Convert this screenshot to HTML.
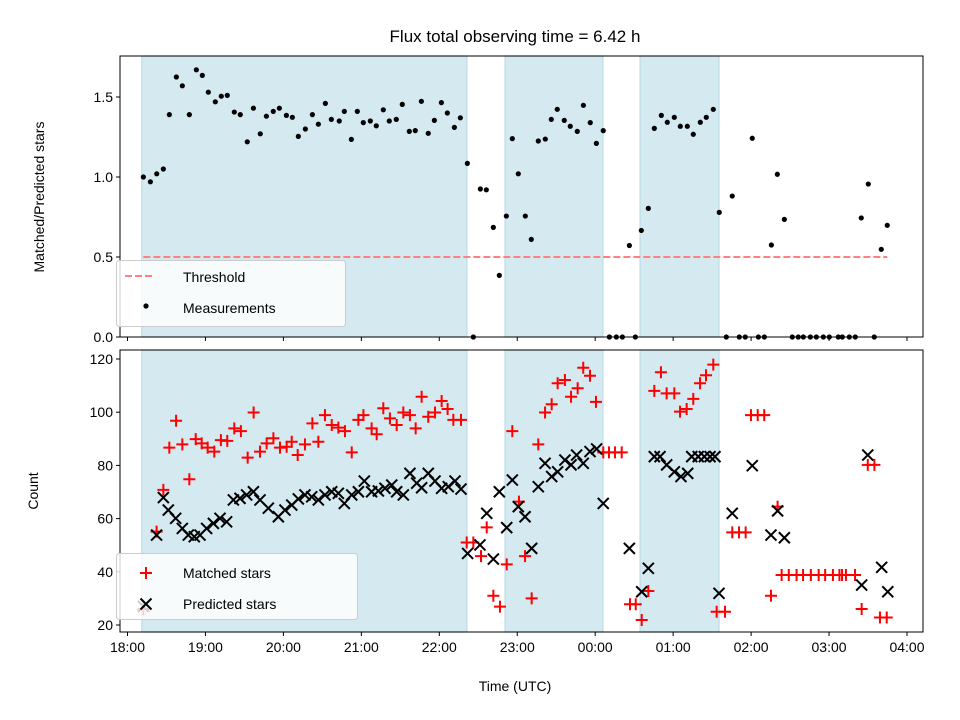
<!DOCTYPE html>
<html><head><meta charset="utf-8"><style>
body{margin:0;background:#fff}
svg{display:block;font-family:"Liberation Sans","DejaVu Sans",sans-serif}
</style></head><body>
<svg id="chart" width="960" height="720" viewBox="0 0 960 720" xmlns="http://www.w3.org/2000/svg">
<rect width="960" height="720" fill="#fff"/>
<g id="gtop"></g><g id="gbot"></g>
</svg>
<script>
// times in minutes after 18:00 UTC
const spans = [[11,261.3],[290.6,366],[394.5,455.3]];
const ratioT = [12.2,17.6,22.5,27.6,32.2,37.6,42.2,47.6,53.0,57.6,62.2,67.6,72.2,76.8,82.2,86.8,92.2,96.9,102.2,106.9,112.2,116.9,122.3,126.9,131.5,136.9,142.3,146.9,152.3,156.9,163.0,166.9,172.3,176.9,181.5,186.9,191.5,196.9,201.5,206.9,211.5,216.9,221.5,226.2,231.5,236.2,241.6,246.2,251.6,256.2,261.6,266.2,271.6,276.2,281.6,286.2,291.6,296.2,300.8,306.2,310.8,316.2,321.6,326.2,330.8,336.2,340.8,346.2,350.9,356.2,360.9,366.2,370.9,376.3,380.9,386.3,390.9,395.5,400.9,405.5,410.9,415.5,420.9,425.5,430.9,435.5,440.9,445.5,450.9,455.5,460.9,465.5,470.9,475.5,480.9,485.6,490.2,495.6,500.2,505.6,511.7,516.3,520.2,525.6,530.2,535.6,540.2,547.1,550.2,555.6,560.2,564.8,570.2,574.8,580.2,584.8];
const ratioV = [1.00,0.97,1.02,1.05,1.39,1.625,1.57,1.39,1.67,1.635,1.53,1.47,1.505,1.51,1.406,1.39,1.22,1.43,1.27,1.38,1.41,1.43,1.385,1.373,1.254,1.30,1.39,1.33,1.46,1.36,1.35,1.41,1.235,1.41,1.34,1.35,1.32,1.42,1.35,1.36,1.454,1.285,1.29,1.473,1.273,1.354,1.465,1.40,1.31,1.37,1.085,0,0.925,0.92,0.685,0.385,0.756,1.24,1.02,0.756,0.61,1.225,1.237,1.36,1.423,1.354,1.317,1.285,1.448,1.34,1.21,1.29,0,0,0,0.572,0,0.666,0.804,1.304,1.385,1.342,1.373,1.317,1.317,1.267,1.342,1.373,1.423,0.779,0,0.881,0,0,1.242,0,0,0.575,1.017,0.735,0,0,0,0,0,0,0,0,0,0,0,0.744,0.956,0,0.548,0.698];
const threshold = 0.5, threshStart = 12.2, threshEnd = 584.8;
const predT = [12.2,22.4,27.6,31.4,37.1,42.2,46.8,51.4,55.8,60.9,66.1,71.2,76.3,81.5,86.6,91.7,96.9,102.0,108.4,116.1,121.2,126.4,131.5,136.6,141.8,146.9,152.0,157.2,162.3,166.9,172.6,177.7,182.3,187.9,193.1,198.2,203.4,207.2,212.3,217.4,222.6,226.4,231.5,236.7,241.8,246.9,252.1,256.7,261.8,271.3,276.5,281.6,286.2,291.9,296.2,300.8,306.0,311.1,316.2,321.4,326.5,331.1,336.7,341.4,345.7,350.8,356.0,361.1,366.2,386.3,395.8,400.9,405.5,409.9,415.0,420.9,426.0,431.2,434.3,439.3,444.0,448.4,452.2,455.3,465.5,480.9,495.3,500.4,505.6,565.1,569.8,580.5,585.2];
const predV = [27,53.8,67.9,63.2,60.1,56.3,53.8,53.2,53.8,56.3,58.2,60.1,58.8,67.0,67.6,68.9,70.1,67.0,63.9,60.7,63.2,65.1,67.4,68.9,68.2,67.0,68.9,70.1,69.5,65.7,68.9,70.1,74.1,70.1,70.4,71.4,72.6,70.1,68.9,77.0,73.3,71.6,77.0,74.1,71.4,72.0,74.1,71.1,46.9,50.1,62.0,44.8,70.1,56.6,74.5,64.5,60.7,48.8,72.0,80.8,75.8,77.6,82.0,80.2,83.9,80.8,85.2,86.2,65.7,48.8,32.5,41.3,83.3,83.3,80.2,77.6,75.8,77.0,83.3,83.3,83.3,83.3,83.3,31.9,62.0,79.9,53.8,62.9,52.8,35.0,83.9,41.7,32.5];
const matT = [12.2,22.4,27.6,32.2,37.4,42.2,47.6,52.5,57.1,61.7,66.8,71.9,76.8,82.2,87.3,92.5,97.1,102.0,107.1,112.3,117.4,122.5,126.4,131.0,136.6,142.3,146.9,152.0,157.2,162.3,167.4,172.6,177.7,181.6,187.9,191.8,196.9,202.0,207.2,212.3,217.4,221.8,226.4,231.5,236.7,241.8,246.4,250.8,256.7,261.1,266.2,272.1,276.5,281.6,286.7,291.9,296.2,301.3,306.0,311.1,316.2,321.4,326.5,331.1,336.7,341.4,346.5,350.8,356.0,360.6,366.2,370.6,375.2,380.4,386.8,391.2,395.8,400.9,405.5,410.6,415.0,420.9,425.3,430.4,435.5,440.7,445.3,450.9,453.5,459.9,465.5,470.7,475.8,479.9,485.1,490.1,495.3,500.4,503.5,509,515,520,526,532,537,543,548,550,553,560,565.1,569.8,574.9,579.2,584.4];
const matV = [26,55.1,70.8,86.7,96.8,87.9,74.8,89.9,88.3,86.7,85.2,89.5,89.2,93.9,92.9,82.9,99.9,85.2,88.3,90.2,86.7,87.0,88.9,83.9,87.9,95.8,88.9,98.9,95.2,94.2,92.9,84.9,97.1,98.9,93.9,91.7,101.5,97.7,95.2,99.9,98.9,93.9,105.8,98.3,99.9,104.2,101.2,97.1,97.1,51.0,51.0,45.9,56.7,31.0,26.9,42.8,92.9,66.4,45.9,30.0,87.9,99.9,103.0,110.9,112.1,105.8,109.0,116.7,113.7,103.9,84.9,84.9,84.9,84.9,27.8,27.8,21.9,32.8,108.0,115.0,107.1,107.1,100.2,101.2,105.0,110.9,113.9,117.9,25.0,25.0,54.8,54.8,54.8,98.9,98.9,98.9,31.0,64.5,38.8,38.8,38.8,38.8,38.8,38.8,38.8,38.8,38.8,38.8,38.8,38.8,26.0,80.2,80.2,22.8,22.8];
const xTickLabels = ["18:00","19:00","20:00","21:00","22:00","23:00","00:00","01:00","02:00","03:00","04:00"];
const topTicks = [0,0.5,1.0,1.5];
const botTicks = [20,40,60,80,100,120];

const NS="http://www.w3.org/2000/svg";
const L=120,R=923;
const X=m=>127.5+m/60*77.95;
const YT=v=>337-v*160;
const YB=v=>625-(v-20)*2.66;
function el(parent,tag,attrs,text){const e=document.createElementNS(NS,tag);for(const k in attrs)e.setAttribute(k,attrs[k]);if(text!==undefined)e.textContent=text;parent.appendChild(e);return e;}
const gTop=document.getElementById('gtop'),gBot=document.getElementById('gbot');

function axesFrame(g,y0,y1,name){
  spans.forEach((s,i)=>{const r=el(g,'rect',{x:X(s[0]),y:y0,width:X(s[1])-X(s[0]),height:y1-y0,fill:'#d4e9f0',stroke:'#bcdde8','stroke-width':1.2});
  
  });
}
function spine(g,y0,y1,name){const r=el(g,'rect',{x:L,y:y0,width:R-L,height:y1-y0,fill:'none',stroke:'#000','stroke-width':1});

}
function xTicks(g,y1,labels){xTickLabels.forEach((t,i)=>{const x=X(i*60);el(g,'line',{x1:x,x2:x,y1:y1,y2:y1+4,stroke:'#000'});
if(labels){const tx=el(g,'text',{x:x,y:y1+20,'text-anchor':'middle','font-size':14},t);

}});}

// TOP
axesFrame(gTop,56,337,'top');
const th=el(gTop,'line',{x1:X(threshStart),x2:X(threshEnd),y1:YT(threshold),y2:YT(threshold),stroke:'#ff8080','stroke-width':2,'stroke-dasharray':'7,3'});


ratioT.forEach((t,i)=>{const c=el(gTop,'circle',{cx:X(t),cy:YT(ratioV[i]),r:2.6,fill:'#000'});

});
spine(gTop,56,337,'top');
xTicks(gTop,337,false);
topTicks.forEach(v=>{const y=YT(v);el(gTop,'line',{x1:L-4,x2:L,y1:y,y2:y,stroke:'#000'});
const tx=el(gTop,'text',{x:L-7,y:y+5,'text-anchor':'end','font-size':14},v.toFixed(1));

});
const lg1=el(gTop,'g',{});


el(lg1,'rect',{x:116.5,y:260.5,width:229,height:66,rx:3,fill:'#fff','fill-opacity':0.8,stroke:'#ccc'});
el(lg1,'line',{x1:125,x2:153,y1:276,y2:276,stroke:'#ff8080','stroke-width':2,'stroke-dasharray':'7,3'});
el(lg1,'text',{x:183,y:282,'font-size':14},'Threshold');
el(lg1,'circle',{cx:146,cy:306,r:2.6,fill:'#000'});
el(lg1,'text',{x:183,y:313,'font-size':14},'Measurements');

// BOTTOM
axesFrame(gBot,350,632,'bottom');
function plus(g,x,y){return el(g,'path',{d:`M${x-6},${y}H${x+6}M${x},${y-6}V${y+6}`,stroke:'#f00','stroke-width':2});}
function cross(g,x,y){return el(g,'path',{d:`M${x-5.5},${y-5.5}L${x+5.5},${y+5.5}M${x-5.5},${y+5.5}L${x+5.5},${y-5.5}`,stroke:'#000','stroke-width':2});}
matT.forEach((t,i)=>{const p=plus(gBot,X(t),YB(matV[i]));

});
predT.forEach((t,i)=>{const p=cross(gBot,X(t),YB(predV[i]));

});
spine(gBot,350,632,'bottom');
xTicks(gBot,632,true);
botTicks.forEach(v=>{const y=YB(v);el(gBot,'line',{x1:L-4,x2:L,y1:y,y2:y,stroke:'#000'});
const tx=el(gBot,'text',{x:L-7,y:y+5,'text-anchor':'end','font-size':14},String(v));

});
const lg2=el(gBot,'g',{});


el(lg2,'rect',{x:116.5,y:553.5,width:241,height:66,rx:3,fill:'#fff','fill-opacity':0.8,stroke:'#ccc'});
plus(lg2,146,573);
el(lg2,'text',{x:183,y:578,'font-size':14},'Matched stars');
cross(lg2,146,604);
el(lg2,'text',{x:183,y:609,'font-size':14},'Predicted stars');

const svg=document.getElementById('chart');
const t1=el(svg,'text',{x:515,y:42,'text-anchor':'middle','font-size':17},'Flux total observing time = 6.42 h');


const t2=el(svg,'text',{x:515,y:691,'text-anchor':'middle','font-size':14},'Time (UTC)');


const t3=el(svg,'text',{x:0,y:0,'text-anchor':'middle','font-size':14,transform:'translate(44,197) rotate(-90)'},'Matched/Predicted stars');


const t4=el(svg,'text',{x:0,y:0,'text-anchor':'middle','font-size':14,transform:'translate(38,491) rotate(-90)'},'Count');


</script>
</body></html>
